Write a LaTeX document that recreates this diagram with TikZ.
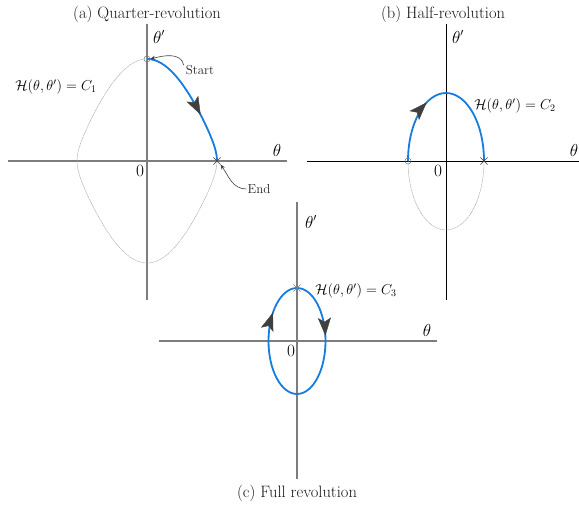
\documentclass[tikz,border=0pt]{standalone}
\usetikzlibrary{arrows.meta,decorations.markings,shapes.misc}
\definecolor{curveblue}{RGB}{22,124,224}
\definecolor{axisgray}{RGB}{125,125,125}
\definecolor{headgray}{RGB}{64,64,64}
\begin{document}
\begin{tikzpicture}[x=1pt,y=1pt,
  axis/.style={draw=axisgray,line width=1.4pt},
  axisb/.style={draw=black,line width=0.8pt},
  orbit/.style={draw=curveblue,line width=1.8pt},
  ghost/.style={draw=gray!65,line width=0.5pt,dash pattern=on 1.5pt off 0.6pt},
  title/.style={font=\fontsize{16.5}{18}\selectfont,text=black!90},
  axlabel/.style={font=\fontsize{16}{18}\selectfont},
  hlabel/.style={font=\fontsize{14.5}{16}\selectfont},
  note/.style={font=\fontsize{13}{15}\selectfont,text=black!85,inner sep=1pt},
  pointer/.style={draw=headgray,line width=0.6pt,-{Stealth[length=5pt,width=4pt]}},
  startmark/.style={draw=gray,line width=0.5pt,circle,minimum size=6pt,inner sep=0pt},
  endmark/.style={draw=headgray,line width=0.6pt,cross out,minimum size=6.5pt,inner sep=0pt},
  flow/.style={postaction={decorate,decoration={markings,mark=at position #1 with {\arrow{Stealth[length=18pt,width=13pt,inset=4pt,color=headgray,line width=0.4pt]}}}}}
]
\useasboundingbox (0,0) rectangle (579,-505);

% ---------------- (a) Quarter-revolution ----------------
\draw[axis] (8,-161) -- (287,-161);
\draw[axis] (147,-24) -- (147,-300);
\draw[ghost] plot[domain=0:360,samples=200,variable=\p]
  ({147+0.87266*asin(0.98545*sin(\p))},{-161+102*cos(\p)});
\draw[orbit,flow=0.62] plot[domain=0:90,samples=80,variable=\p]
  ({147+0.87266*asin(0.98545*sin(\p))},{-161+102*cos(\p)});
\node[startmark] (sa) at (147,-59) {};
\node[endmark] (ea) at (217,-161) {};
\node[title] (ta) at (147,-14) {(a) Quarter-revolution};
\node[axlabel] (yla) at (159,-37) {$\theta'$};
\node[axlabel] (xla) at (277,-151) {$\theta$};
\node[axlabel] (oa) at (140,-171) {$0$};
\node[hlabel] (ha) at (56,-87) {$\mathcal{H}(\theta,\theta')=C_1$};
\node[note] (st) at (200,-70) {Start};
\node[note] (en) at (259,-189) {End};
\draw[pointer] ([xshift=-1pt,yshift=-1pt]st.north west) to[out=100,in=15] (sa.east);
\draw[pointer] (en.west) to[out=180,in=-55] (ea.south east);

% ---------------- (b) Half-revolution ----------------
\draw[axisb] (307,-161) -- (579,-161);
\draw[axisb] (446,-24) -- (446,-300);
\draw[ghost] (408,-161) arc[start angle=180,end angle=360,x radius=38,y radius=69];
\draw[orbit,flow=0.37] (408,-161) arc[start angle=180,end angle=0,x radius=38,y radius=68];
\node[startmark] (sb) at (408,-161) {};
\node[endmark] (eb) at (484,-161) {};
\node[title] (tb) at (443,-14) {(b) Half-revolution};
\node[axlabel] (ylb) at (458,-37) {$\theta'$};
\node[axlabel] (xlb) at (574,-151) {$\theta$};
\node[axlabel] (ob) at (438,-171) {$0$};
\node[hlabel] (hb) at (515,-106) {$\mathcal{H}(\theta,\theta')=C_2$};

% ---------------- (c) Full revolution ----------------
\draw[axis] (159,-341) -- (437,-341);
\draw[axis] (297,-202) -- (297,-479);
\draw[orbit,flow=0.23,flow=0.86] (297,-288) arc[start angle=90,end angle=-270,x radius=28.5,y radius=53];
\node[endmark,draw=gray] (ec) at (297,-288) {};
\node[axlabel] (ylc) at (311,-222) {$\theta'$};
\node[axlabel] (xlc) at (427,-331) {$\theta$};
\node[axlabel] (oc) at (291,-351) {$0$};
\node[hlabel] (hc) at (356,-291) {$\mathcal{H}(\theta,\theta')=C_3$};
\node[title] (tc) at (297,-493) {(c) Full revolution};
\end{tikzpicture}
\end{document}
